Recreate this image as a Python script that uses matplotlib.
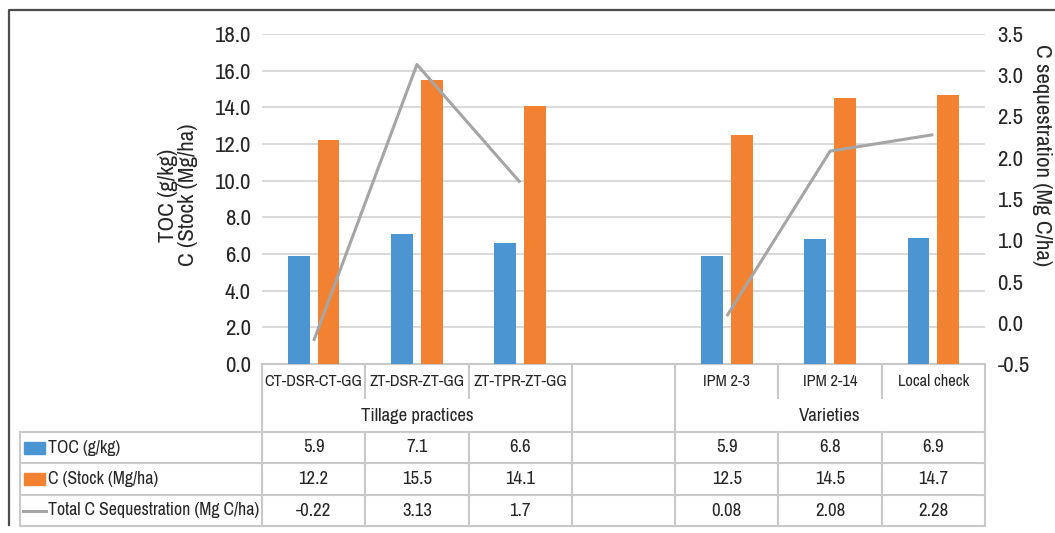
import numpy as np
import matplotlib
matplotlib.use('Agg')
import matplotlib.pyplot as plt
from matplotlib.patches import Rectangle
from matplotlib.lines import Line2D

plt.rcParams['font.family'] = ['Archivo Narrow', 'Liberation Sans']

# ─── data ────────────────────────────────────────────────────────────────
tillage_labels = ['CT-DSR-CT-GG', 'ZT-DSR-ZT-GG', 'ZT-TPR-ZT-GG']
variety_labels = ['IPM 2-3', 'IPM 2-14', 'Local check']
group_names = ['Tillage practices', 'Varieties']

toc_tillage = [5.9, 7.1, 6.6]
toc_variety = [5.9, 6.8, 6.9]
stock_tillage = [12.2, 15.5, 14.1]
stock_variety = [12.5, 14.5, 14.7]
seq_tillage = [-0.22, 3.13, 1.7]
seq_variety = [0.08, 2.08, 2.28]

series_names = ['TOC (g/kg)', 'C (Stock (Mg/ha)', 'Total C Sequestration (Mg C/ha)']

BLUE = '#4B96D2'
ORANGE = '#F28232'
GRAY = '#A5A5A5'
GRID = '#D9D9D9'
TLINE = '#C9C9CB'
TXT = '#262626'

# ─── layout (pixels of a 1055x533 canvas) ────────────────────────────────
W, H = 1055, 533
AX_L, AX_R, AX_T, AX_B = 262, 985, 34, 364
SLOT = (AX_R - AX_L) / 7.0

fig = plt.figure(figsize=(W / 100, H / 100), dpi=100)
ax = fig.add_axes([AX_L / W, 1 - AX_B / H, (AX_R - AX_L) / W, (AX_B - AX_T) / H])
ax2 = ax.twinx()

x_till = np.arange(len(tillage_labels))
x_var = np.arange(len(variety_labels)) + len(tillage_labels) + 1

bw, off = 0.21, 0.145
for xs, toc, stock in [(x_till, toc_tillage, stock_tillage), (x_var, toc_variety, stock_variety)]:
    ax.bar(xs - off, toc, bw, color=BLUE, zorder=3)
    ax.bar(xs + off, stock, bw, color=ORANGE, zorder=3)

for xs, seq in [(x_till, seq_tillage), (x_var, seq_variety)]:
    ax2.plot(xs, seq, color=GRAY, lw=2.2, solid_capstyle='butt', zorder=4)

ax.set_xlim(-0.5, 6.5)
ax.set_ylim(0, 18)
ax.set_yticks(np.arange(0, 18.1, 2))
ax.set_yticklabels([f'{v:.1f}' for v in np.arange(0, 18.1, 2)])
ax2.set_ylim(-0.5, 3.5)
ax2.set_yticks(np.arange(-0.5, 3.51, 0.5))
ax2.set_yticklabels([f'{v:.1f}' for v in np.arange(-0.5, 3.51, 0.5)])

ax.grid(axis='y', color=GRID, lw=1.4, zorder=0)
ax.set_xticks([])
for a in (ax, ax2):
    for s in a.spines.values():
        s.set_visible(False)
    a.tick_params(axis='y', length=0, labelsize=16.5, colors=TXT)
ax.tick_params(axis='y', pad=8)
ax2.tick_params(axis='y', pad=9)

ax.text((178 - AX_L) / (AX_R - AX_L), (AX_B - 195) / (AX_B - AX_T),
        'TOC (g/kg)\nC (Stock (Mg/ha)',
        transform=ax.transAxes, rotation=90, ha='center', va='center',
        multialignment='center', fontsize=16.5, color=TXT, linespacing=1.0)
ax.text((1042 - AX_L) / (AX_R - AX_L), (AX_B - 155) / (AX_B - AX_T),
        'C sequestration (Mg C/ha)',
        transform=ax.transAxes, rotation=-90, ha='center', va='center',
        fontsize=16.5, color=TXT, clip_on=False)

# ─── data table under the axis ───────────────────────────────────────────
tr = ax.get_xaxis_transform()


def yf(ypix):
    return (AX_B - ypix) / (AX_B - AX_T)


def xd(xpix):
    return (xpix - AX_L) / SLOT - 0.5


def hline(x0, x1, ypix):
    ax.add_line(Line2D([x0, x1], [yf(ypix)] * 2, transform=tr, color=TLINE,
                       lw=1.5, clip_on=False))


def vline(x, y0, y1):
    ax.add_line(Line2D([x, x], [yf(y0), yf(y1)], transform=tr, color=TLINE,
                       lw=1.5, clip_on=False))


rows_y = [432, 463, 495, 526]
hline(-0.5, 6.5, AX_B)
for y in rows_y:
    hline(xd(20), 6.5, y)
vline(xd(20), 432, 526)
for x in [-0.5, 2.5, 3.5, 6.5]:
    vline(x, AX_B, 526)
for x in [0.5, 1.5, 4.5, 5.5]:
    vline(x, AX_B, 398)
    vline(x, 432, 526)

for xs, labels in [(x_till, tillage_labels), (x_var, variety_labels)]:
    for x, lab in zip(xs, labels):
        ax.text(x, yf(381), lab, transform=tr, ha='center', va='center',
                fontsize=11.8, color=TXT, clip_on=False)
for xs, name in [(x_till, group_names[0]), (x_var, group_names[1])]:
    ax.text(xs.mean(), yf(416), name, transform=tr, ha='center', va='center',
            fontsize=13.5, color=TXT, clip_on=False)

table_rows = [(toc_tillage, toc_variety), (stock_tillage, stock_variety),
              (seq_tillage, seq_variety)]
for i, (vt, vv) in enumerate(table_rows):
    yc = (rows_y[i] + rows_y[i + 1]) / 2
    for xs, vals in [(x_till, vt), (x_var, vv)]:
        for x, v in zip(xs, vals):
            ax.text(x, yf(yc), f'{v:g}', transform=tr, ha='center', va='center',
                    fontsize=13.5, color=TXT, clip_on=False)
    ax.text(xd(48), yf(yc), series_names[i], transform=tr, ha='left',
            va='center', fontsize=12.8, color=TXT, clip_on=False)
    if i < 2:
        ax.add_patch(Rectangle((xd(24), yf(yc + 6)), xd(45) - xd(24), yf(yc - 6) - yf(yc + 6),
                               transform=tr, color=[BLUE, ORANGE][i], clip_on=False))
    else:
        ax.add_line(Line2D([xd(23), xd(46)], [yf(yc)] * 2, transform=tr,
                           color=GRAY, lw=2.2, clip_on=False))

# outer frame (left and top edges visible)
fig.add_artist(Line2D([9 / W, 9 / W, 1], [1 - 525 / H, 1 - 10 / H, 1 - 10 / H],
                      transform=fig.transFigure, color='#4D4D4D', lw=1.6))

fig.savefig('out.png', dpi=100)
